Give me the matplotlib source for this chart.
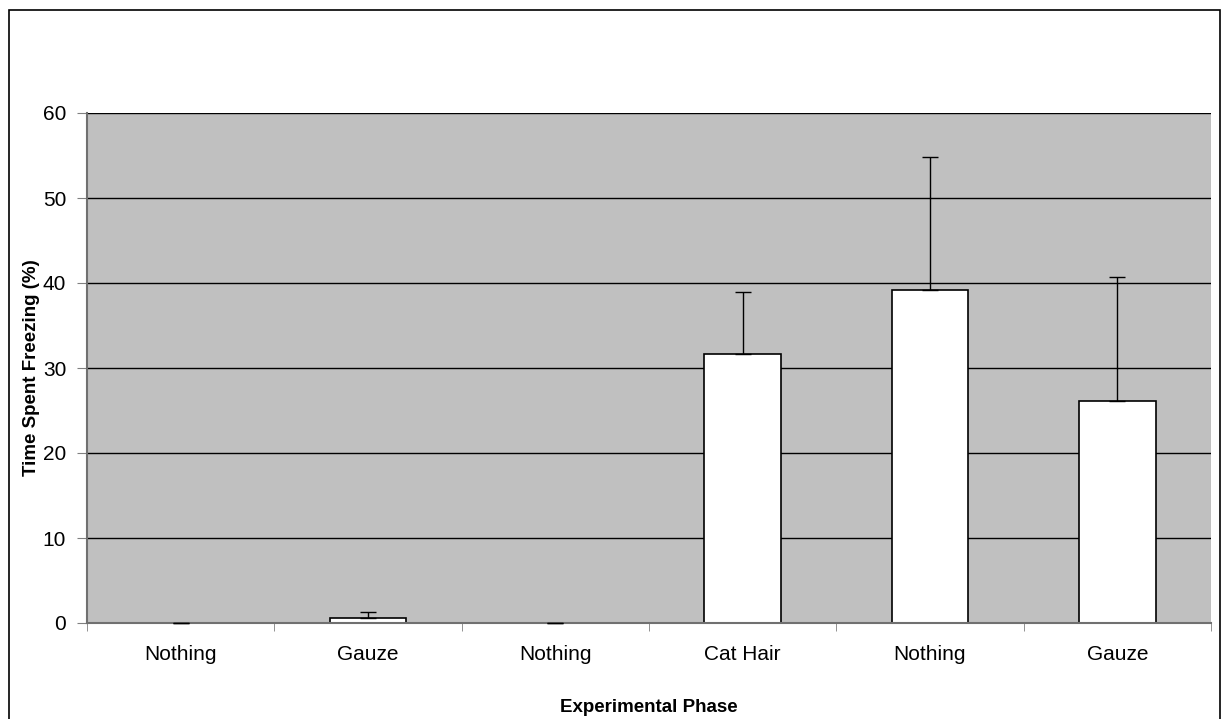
import matplotlib.pyplot as plt
import matplotlib.patches as mpatches
import numpy as np

plt.rcParams['font.family'] = ['Liberation Sans', 'DejaVu Sans']

phases = ['Nothing', 'Gauze', 'Nothing', 'Cat Hair', 'Nothing', 'Gauze']
freezing = [0.0, 0.6, 0.0, 31.6, 39.2, 26.1]
errors = [0.0, 0.7, 0.0, 7.4, 15.6, 14.6]

fig = plt.figure(figsize=(12.29, 7.19), dpi=100)
ax = fig.add_axes([87 / 1229, 1 - 623 / 719, (1211 - 87) / 1229, (623 - 113) / 719])

# outer chart border
fig.patches.append(mpatches.Rectangle((9 / 1229, -0.05), (1220 - 9) / 1229, 1 - 10 / 719 + 0.05,
                                      transform=fig.transFigure, fill=False,
                                      edgecolor='black', linewidth=1.2))

x = np.arange(len(phases))
ax.set_facecolor('#c0c0c0')
ax.bar(x, freezing, width=0.41, color='white', edgecolor='black', linewidth=1.2, zorder=3)
eb = ax.errorbar(x, freezing, yerr=[np.zeros(len(errors)), errors], fmt='none',
                 ecolor='black', elinewidth=1, capsize=5.5, capthick=1, zorder=4)
for cap in eb[1]:
    cap.set_zorder(6)
    cap.set_clip_on(False)

ax.set_xlim(-0.5, len(phases) - 0.5)
ax.set_ylim(0, 60)
ax.set_yticks(range(0, 61, 10))
ax.yaxis.grid(True, color='black', linewidth=1)
ax.set_axisbelow(True)

ax.set_xticks(x)
ax.set_xticklabels(phases, fontsize=15)
ax.set_xticks(np.arange(-0.5, len(phases), 1), minor=True)
ax.tick_params(axis='x', which='major', length=0, pad=15.5)
ax.tick_params(axis='x', which='minor', length=6, color='#808080', direction='out')
ax.tick_params(axis='y', labelsize=15, length=7, color='#808080', direction='out', pad=8)

for s in ['top', 'right']:
    ax.spines[s].set_visible(False)
for s in ['left', 'bottom']:
    ax.spines[s].set_color('#707070')
    ax.spines[s].set_linewidth(1.5)
    ax.spines[s].set_zorder(5)

ax.set_xlabel('Experimental Phase', fontsize=13.5, fontweight='bold')
ax.set_ylabel('Time Spent Freezing (%)', fontsize=13.5, fontweight='bold')
ax.xaxis.set_label_coords(0.5, -(699 - 623) / 510)
ax.yaxis.set_label_coords((40 - 87) / 1124, 0.5)

fig.savefig('out.png', dpi=100)
